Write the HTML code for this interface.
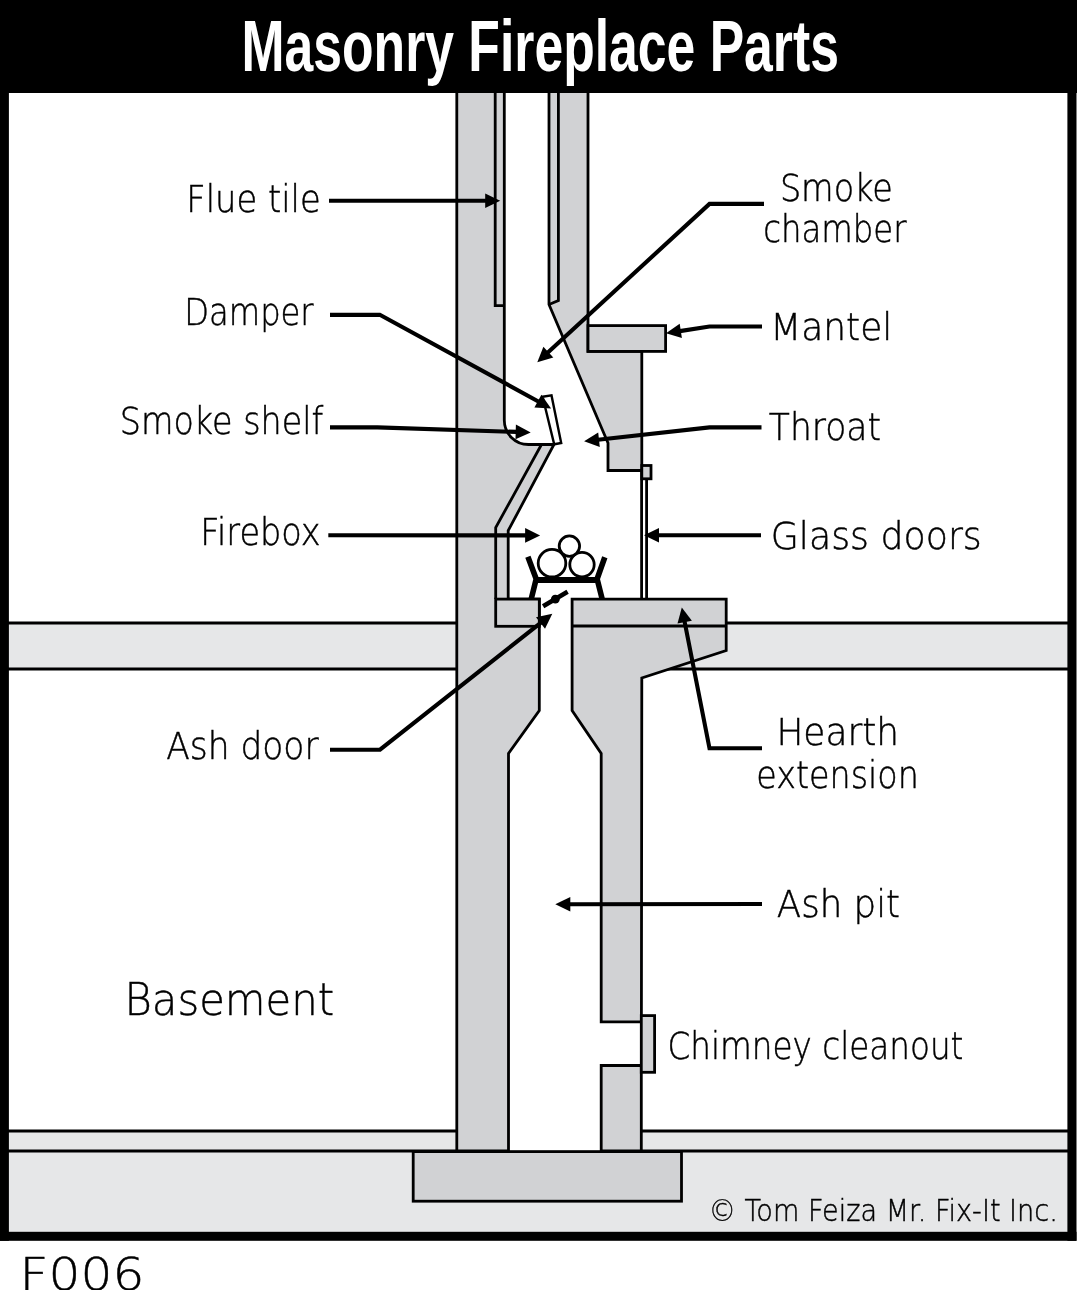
<!DOCTYPE html>
<html lang="en"><head><meta charset="utf-8"><title>Masonry Fireplace Parts</title>
<style>html,body{margin:0;padding:0;background:#fff}svg{display:block;will-change:transform}.lbl text{font-family:'DejaVu Sans Light','DejaVu Sans','Liberation Sans',sans-serif;fill:#000;stroke:#000;stroke-width:0.45px}</style></head><body>
<svg width="1077" height="1290" viewBox="0 0 1077 1290">
<rect width="1077" height="1290" fill="#fff"/>
<rect x="8" y="623" width="449" height="46.5" fill="#e6e7e8"/>
<rect x="641" y="623" width="427" height="46.5" fill="#e6e7e8"/>
<rect x="8" y="1131" width="1060" height="101" fill="#e6e7e8"/>
<line x1="8" y1="623" x2="457" y2="623" stroke="#000" stroke-width="2.8"/>
<line x1="8" y1="669.0" x2="457" y2="669.0" stroke="#000" stroke-width="2.8"/>
<line x1="726" y1="623" x2="1068" y2="623" stroke="#000" stroke-width="2.8"/>
<line x1="660" y1="669.0" x2="1068" y2="669.0" stroke="#000" stroke-width="2.8"/>
<line x1="8" y1="1131" x2="1068" y2="1131" stroke="#000" stroke-width="3.0999999999999996"/>
<line x1="8" y1="1151" x2="1068" y2="1151" stroke="#000" stroke-width="3.0999999999999996"/>
<rect x="508.5" y="1100" width="92.7" height="51" fill="#fff"/>
<path d="M456.8,90.0 L456.8,1151.0 L508.5,1151.0 L508.5,753.4 L539.3,710.6 L539.3,599.1 L508.2,599.1 L508.2,530.7 L554.0,444.5 L530.0,444.5 L528.5,444.5 A24.2,24.2 0 0 1 504.3,420.3 L504.3,90 Z" fill="#d1d2d4" stroke="#000" stroke-width="2.8"/>
<polyline points="495.7,599.1 495.7,527.6 541.5,444.5" fill="none" stroke="#000" stroke-width="2.8" />
<rect x="495.7" y="599.1" width="43.6" height="27.2" fill="#d1d2d4" stroke="#000" stroke-width="2.8"/>
<polyline points="495.2,90.0 495.2,305.6 504.2,305.6" fill="none" stroke="#000" stroke-width="2.8" />
<polygon points="549.0,90.0 549.0,304.5 608.0,443.0 608.0,470.5 641.8,470.5 641.8,351.4 588.0,351.4 588.0,90.0" fill="#d1d2d4" stroke="#000" stroke-width="2.8" stroke-linejoin="miter" />
<polyline points="558.4,90.0 558.4,300.6 549.0,304.5" fill="none" stroke="#000" stroke-width="2.8" />
<rect x="588.0" y="325.6" width="77.6" height="25.8" fill="#d1d2d4" stroke="#000" stroke-width="2.8"/>
<rect x="641.8" y="478" width="4.7" height="120" fill="#fff"/>
<polyline points="641.6,470.0 641.6,599.1" fill="none" stroke="#000" stroke-width="2.8" />
<polyline points="646.6,478.0 646.6,599.1" fill="none" stroke="#000" stroke-width="2.8" />
<rect x="641.8" y="465.5" width="9.2" height="13.3" fill="#d1d2d4" stroke="#000" stroke-width="2.8"/>
<polygon points="572.1,599.1 726.2,599.1 726.2,650.5 641.8,678.0 641.4,1021.8 601.2,1021.8 601.2,753.4 572.1,710.6" fill="#d1d2d4" stroke="#000" stroke-width="2.8" stroke-linejoin="miter" />
<line x1="572.1" y1="626" x2="726.2" y2="626" stroke="#000" stroke-width="2.8"/>
<polygon points="601.2,1065.5 641.3,1065.5 641.3,1151.0 601.2,1151.0" fill="#d1d2d4" stroke="#000" stroke-width="2.8" stroke-linejoin="miter" />
<rect x="641.3" y="1015.6" width="13.3" height="56.7" fill="#d1d2d4" stroke="#000" stroke-width="2.8"/>
<rect x="413.2" y="1151.6" width="268.3" height="49.6" fill="#d1d2d4" stroke="#000" stroke-width="2.8"/>
<polygon points="542.6,396.7 551.5,395.4 561.2,443.0 554.2,444.3" fill="#fff" stroke="#000" stroke-width="2.4" stroke-linejoin="miter" />
<g fill="#fff" stroke="#000" stroke-width="2.8"><circle cx="552" cy="563.2" r="13.8"/><circle cx="582" cy="564.6" r="12.2"/><circle cx="569.4" cy="546.1" r="10.2"/></g>
<g stroke="#000" stroke-width="5.6" fill="none"><path d="M527.9,556.8 L536.2,579 L531.2,599.1" stroke-linejoin="miter"/><path d="M604.8,557.2 L597.1,579 L602.2,599.1"/><line x1="534" y1="580" x2="599.5" y2="580" stroke-width="6"/></g>
<line x1="543.1" y1="606.2" x2="567.6" y2="591.8" stroke="#000" stroke-width="4.6"/><circle cx="555.3" cy="599.2" r="4.4" fill="#000"/>
<polyline points="329.0,200.8 486.2,200.8" fill="none" stroke="#000" stroke-width="4.1" stroke-linejoin="miter"/><polygon points="500.2,200.8 485.2,208.1 485.2,193.5" fill="#000"/>
<polyline points="330.0,314.9 379.8,314.7 538.8,401.7" fill="none" stroke="#000" stroke-width="4.1" stroke-linejoin="miter"/><polygon points="551.1,408.4 534.4,407.6 541.4,394.8" fill="#000"/>
<polyline points="330.0,427.4 377.4,427.4 516.7,431.9" fill="none" stroke="#000" stroke-width="4.1" stroke-linejoin="miter"/><polygon points="530.7,432.4 515.5,439.2 515.9,424.6" fill="#000"/>
<polyline points="328.3,535.3 526.1,535.4" fill="none" stroke="#000" stroke-width="4.1" stroke-linejoin="miter"/><polygon points="540.1,535.4 525.1,542.7 525.1,528.1" fill="#000"/>
<polyline points="330.0,749.7 380.0,749.7 541.3,622.4" fill="none" stroke="#000" stroke-width="4.1" stroke-linejoin="miter"/><polygon points="552.3,613.7 545.0,628.7 536.0,617.3" fill="#000"/>
<polyline points="764.0,203.9 709.5,203.9 547.6,352.7" fill="none" stroke="#000" stroke-width="4.1" stroke-linejoin="miter"/><polygon points="537.3,362.2 543.4,346.7 553.3,357.4" fill="#000"/>
<polyline points="762.0,326.5 709.5,326.5 679.8,331.1" fill="none" stroke="#000" stroke-width="4.1" stroke-linejoin="miter"/><polygon points="666.0,333.2 679.7,323.7 681.9,338.1" fill="#000"/>
<polyline points="761.5,427.4 709.5,427.4 598.0,439.8" fill="none" stroke="#000" stroke-width="4.1" stroke-linejoin="miter"/><polygon points="584.1,441.3 598.2,432.4 599.8,446.9" fill="#000"/>
<polyline points="761.0,535.2 658.0,535.3" fill="none" stroke="#000" stroke-width="4.1" stroke-linejoin="miter"/><polygon points="644.0,535.3 659.0,528.0 659.0,542.6" fill="#000"/>
<polyline points="762.0,748.3 709.5,748.3 684.5,621.2" fill="none" stroke="#000" stroke-width="4.1" stroke-linejoin="miter"/><polygon points="681.8,607.5 691.9,620.8 677.5,623.6" fill="#000"/>
<polyline points="762.0,904.0 569.3,904.3" fill="none" stroke="#000" stroke-width="4.1" stroke-linejoin="miter"/><polygon points="555.3,904.3 570.3,897.0 570.3,911.6" fill="#000"/>
<rect x="0" y="0" width="1077" height="93" fill="#000"/>
<rect x="0" y="0" width="8.9" height="1240.8" fill="#000"/>
<rect x="1067.4" y="0" width="9.1" height="1240.8" fill="#000"/>
<rect x="0" y="1231.8" width="1076.5" height="9" fill="#000"/>
<text transform="translate(241.5,71.3) scale(0.712,1)" font-family="'Liberation Sans',sans-serif" font-weight="700" font-size="72.6" fill="#fff">Masonry Fireplace Parts</text>
<g class="lbl">
<text x="186.3" y="211.8" font-size="37" textLength="134.4" lengthAdjust="spacingAndGlyphs" font-weight="200">Flue tile</text>
<text x="184.3" y="325.4" font-size="37" textLength="129.3" lengthAdjust="spacingAndGlyphs" font-weight="200">Damper</text>
<text x="119.8" y="434.0" font-size="37" textLength="203.4" lengthAdjust="spacingAndGlyphs" font-weight="200">Smoke shelf</text>
<text x="200.2" y="545.2" font-size="37" textLength="120.4" lengthAdjust="spacingAndGlyphs" font-weight="200">Firebox</text>
<text x="166.2" y="759.0" font-size="37" textLength="152.4" lengthAdjust="spacingAndGlyphs" font-weight="200">Ash door</text>
<text x="124.4" y="1015.3" font-size="44" textLength="209.8" lengthAdjust="spacingAndGlyphs" font-weight="200">Basement</text>
<text x="779.9" y="200.8" font-size="37" textLength="113.0" lengthAdjust="spacingAndGlyphs" font-weight="200">Smoke</text>
<text x="763.2" y="241.9" font-size="37" textLength="143.4" lengthAdjust="spacingAndGlyphs" font-weight="200">chamber</text>
<text x="770.2" y="339.8" font-size="37" textLength="122.1" lengthAdjust="spacingAndGlyphs" font-weight="200">Mantel</text>
<text x="768.8" y="440.0" font-size="37" textLength="112.2" lengthAdjust="spacingAndGlyphs" font-weight="200">Throat</text>
<text x="770.7" y="548.5" font-size="37" textLength="211.1" lengthAdjust="spacingAndGlyphs" font-weight="200">Glass doors</text>
<text x="776.4" y="745.4" font-size="37" textLength="122.6" lengthAdjust="spacingAndGlyphs" font-weight="200">Hearth</text>
<text x="756.3" y="787.6" font-size="37" textLength="162.6" lengthAdjust="spacingAndGlyphs" font-weight="200">extension</text>
<text x="776.8" y="917.2" font-size="37" textLength="123.2" lengthAdjust="spacingAndGlyphs" font-weight="200">Ash pit</text>
<text x="667.6" y="1059.1" font-size="37" textLength="295.8" lengthAdjust="spacingAndGlyphs" font-weight="200">Chimney cleanout</text>
<text x="708.7" y="1220.6" font-size="30" textLength="349.1" lengthAdjust="spacingAndGlyphs" font-weight="200">© Tom Feiza Mr. Fix-It Inc.</text>
<text x="19.6" y="1289.5" font-size="44.5" textLength="124.8" lengthAdjust="spacingAndGlyphs" font-weight="200">F006</text>
</g>
</svg></body></html>
